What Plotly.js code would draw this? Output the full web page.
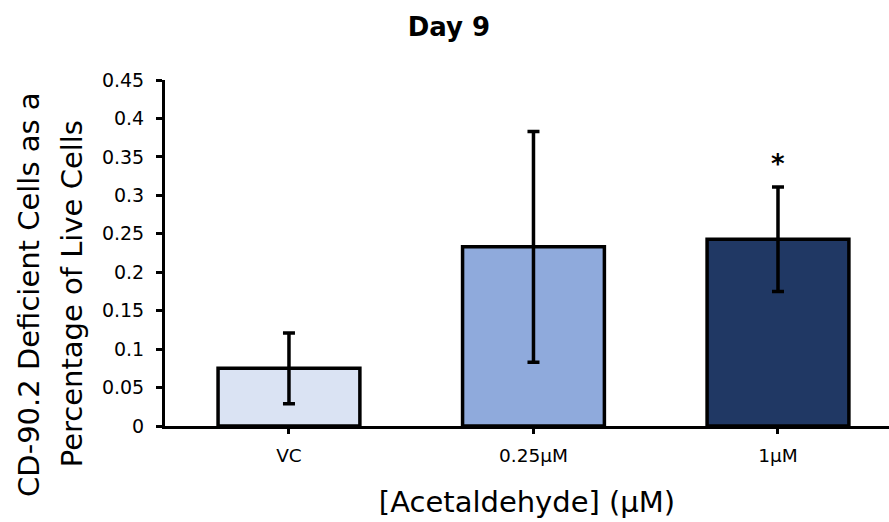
<!DOCTYPE html>
<html>
<head>
<meta charset="utf-8">
<script src="https://cdn.plot.ly/plotly-3.0.1.min.js"></script>
<style>html,body{margin:0;padding:0;background:#fff;}#chart{width:889px;height:522px;}</style>
</head>
<body>
<div id="chart"></div>
<script>
const categories = ["VC", "0.25\u03bcM", "1\u03bcM"];
const means = [0.075, 0.233, 0.243];
const errors = [0.046, 0.150, 0.068];
const barColors = ["#DAE3F3", "#8FAADC", "#203864"];
const significance = ["", "", "*"];
const sigY = [null, null, 0.341];
const yTicks = [0, 0.05, 0.1, 0.15, 0.2, 0.25, 0.3, 0.35, 0.4, 0.45];
const yTickText = ["0", "0.05", "0.1", "0.15", "0.2", "0.25", "0.3", "0.35", "0.4", "0.45"];

const FONT = "'DejaVu Sans', 'Liberation Sans', sans-serif";
const xIdx = categories.map((c, i) => i);

const trace = {
  type: "bar",
  x: xIdx,
  y: means,
  width: 0.58,
  marker: { color: barColors, line: { color: "#000", width: 3.5 } },
  error_y: { type: "data", array: errors, visible: true, color: "#000", thickness: 3.5, width: 6 },
  hoverinfo: "skip"
};

const annotations = [];
significance.forEach((s, i) => {
  if (s) annotations.push({ x: i, y: sigY[i], xref: "x", yref: "y", text: "<b>" + s + "</b>", showarrow: false, font: { family: FONT, size: 26, color: "#000" } });
});
annotations.push({ xref: "paper", yref: "paper", x: -0.188, y: 0.3815, xanchor: "center", yanchor: "middle", text: "CD-90.2 Deficient Cells as a", textangle: -90, showarrow: false, font: { family: FONT, size: 29, color: "#000" } });
annotations.push({ xref: "paper", yref: "paper", x: -0.128, y: 0.3815, xanchor: "center", yanchor: "middle", text: "Percentage of Live Cells", textangle: -90, showarrow: false, font: { family: FONT, size: 29, color: "#000" } });

const layout = {
  width: 889, height: 522,
  margin: { l: 165, r: 0, t: 80, b: 96, pad: 0 },
  paper_bgcolor: "#fff", plot_bgcolor: "#fff",
  showlegend: false,
  title: { text: "<b>Day 9</b>", x: 0.505, xanchor: "center", xref: "container", y: 0.948, yanchor: "middle", font: { family: FONT, size: 26, color: "#000" } },
  xaxis: {
    range: [-0.507, 2.454],
    tickvals: xIdx, ticktext: categories,
    showline: true, linecolor: "#000", linewidth: 3,
    ticks: "outside", ticklen: 5, tickwidth: 3, tickcolor: "#000",
    ticklabelstandoff: 6,
    showgrid: false, zeroline: false,
    tickfont: { family: FONT, size: 18.5, color: "#000" },
    title: { text: "[Acetaldehyde] (\u03bcM)", standoff: 27, font: { family: FONT, size: 29, color: "#000" } },
    fixedrange: true
  },
  yaxis: {
    range: [0, 0.45],
    tickvals: yTicks, ticktext: yTickText,
    showline: true, linecolor: "#000", linewidth: 3,
    ticks: "outside", ticklen: 6, tickwidth: 3, tickcolor: "#000",
    ticklabelstandoff: 8,
    showgrid: false, zeroline: false,
    tickfont: { family: FONT, size: 19, color: "#000" },
    fixedrange: true
  },
  annotations: annotations
};

Plotly.newPlot("chart", [trace], layout, { displayModeBar: false, staticPlot: true });
</script>
</body>
</html>
